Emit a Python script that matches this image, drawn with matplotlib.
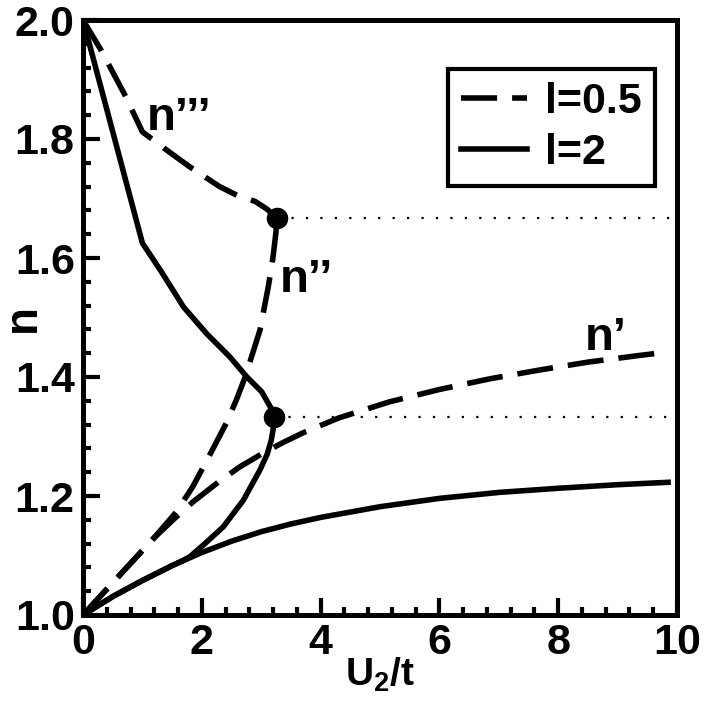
import matplotlib
matplotlib.use('Agg')
import matplotlib.pyplot as plt
from matplotlib.ticker import MultipleLocator
from matplotlib.lines import Line2D

plt.rcParams['font.family'] = ['Liberation Sans', 'DejaVu Sans']
plt.rcParams['font.weight'] = 'bold'
plt.rcParams['mathtext.fontset'] = 'custom'
plt.rcParams['mathtext.bf'] = 'Liberation Sans:bold'
plt.rcParams['mathtext.rm'] = 'Liberation Sans:bold'
plt.rcParams['mathtext.default'] = 'bf'

# l = 0.5 (dashed)
x_d1 = [0, 0.6, 1.2, 1.55, 1.85, 2.30, 2.64, 3.03, 3.37, 3.7, 4.3, 5.15, 6.0, 6.85, 7.7, 8.5, 9.35, 9.85]
n_d1 = [1, 1.065, 1.13, 1.163, 1.19, 1.225, 1.249, 1.272, 1.29, 1.306, 1.331, 1.358, 1.379, 1.397, 1.412, 1.425, 1.436, 1.442]
x_d2 = [0, 0.6, 1.2, 1.57, 1.85, 2.16, 2.41, 2.58, 2.73, 2.98, 3.12, 3.20, 3.25, 3.26]
n_d2 = [1, 1.065, 1.13, 1.173, 1.216, 1.274, 1.322, 1.361, 1.400, 1.479, 1.552, 1.602, 1.645, 1.667]
x_d3 = [0, 0.3, 0.7, 1.0, 1.4, 1.8, 2.3, 2.6, 2.9, 3.1, 3.26]
n_d3 = [2.0, 1.95, 1.875, 1.812, 1.782, 1.753, 1.720, 1.705, 1.695, 1.682, 1.667]

# l = 2 (solid)
x_s1 = [0, 0.5, 1.0, 1.5, 2.0, 2.5, 3.0, 3.5, 4.0, 5.0, 6.0, 7.0, 8.0, 9.0, 9.85]
n_s1 = [1, 1.031, 1.058, 1.083, 1.105, 1.124, 1.140, 1.153, 1.164, 1.182, 1.196, 1.206, 1.213, 1.219, 1.223]
x_s2 = [0, 0.5, 1.0, 1.5, 1.69, 1.80, 2.03, 2.36, 2.70, 2.98, 3.10, 3.17, 3.21, 3.22]
n_s2 = [1, 1.031, 1.058, 1.083, 1.092, 1.098, 1.118, 1.148, 1.193, 1.244, 1.270, 1.294, 1.318, 1.333]
x_s3 = [0, 1.0, 1.3, 1.69, 2.08, 2.47, 2.76, 3.01, 3.18, 3.22]
n_s3 = [2.0, 1.625, 1.580, 1.518, 1.473, 1.434, 1.400, 1.375, 1.345, 1.333]

# critical points
x_crit = [3.26, 3.22]
n_crit = [5/3, 4/3]

fig = plt.figure(figsize=(7.04, 7.09), dpi=100)
ax = fig.add_axes([83/704, 94/709, 594/704, 595/709])

lw = 4.0
dash = (0, (6.5, 2.7))
for xx, nn in [(x_d1, n_d1), (x_d2, n_d2), (x_d3, n_d3)]:
    ax.plot(xx, nn, color='black', lw=lw, linestyle=dash)
for xx, nn in [(x_s1, n_s1), (x_s2, n_s2), (x_s3, n_s3)]:
    ax.plot(xx, nn, color='black', lw=lw)

for xc, nc in zip(x_crit, n_crit):
    ax.plot([xc, 10], [nc, nc], color='black', lw=1.6, linestyle=(0, (1, 5.5)))
ax.plot(x_crit, n_crit, 'o', color='black', markersize=14.5, zorder=5)

ax.text(1.08, 1.815, 'n\u2019\u2019\u2019', fontsize=34, fontweight='bold')
ax.text(3.32, 1.543, 'n\u2019\u2019', fontsize=34, fontweight='bold')
ax.text(8.45, 1.445, 'n\u2019', fontsize=34, fontweight='bold')

ax.set_xlim(0, 10)
ax.set_ylim(1.0, 2.0)
ax.xaxis.set_minor_locator(MultipleLocator(0.4))
ax.yaxis.set_minor_locator(MultipleLocator(0.04))
ax.set_xticks([0, 2, 4, 6, 8, 10])
ax.set_xticklabels(['0', '2', '4', '6', '8', '10'])
ax.set_yticks([1.0, 1.2, 1.4, 1.6, 1.8, 2.0])
ax.set_yticklabels(['1.0', '1.2', '1.4', '1.6', '1.8', '2.0'])
ax.tick_params(which='both', direction='in', top=False, right=False, width=3, labelsize=31, pad=6)
ax.tick_params(which='major', length=12)
ax.tick_params(which='minor', length=6)
for s in ax.spines.values():
    s.set_linewidth(3.6)

ax.set_xlabel('U$_2$/t', fontsize=28, fontweight='bold')
ax.xaxis.set_label_coords(0.5, -0.068, transform=ax.transAxes)
ax.xaxis.label.set_va('top')
fig.text(23/704, 0.5 * (94 + 689) / 709, 'n', fontsize=33, fontweight='bold',
         rotation=90, ha='center', va='center')

handles = [Line2D([], [], color='black', lw=lw, linestyle=dash),
           Line2D([], [], color='black', lw=lw)]
leg = ax.legend(handles, ['l=0.5', 'l=2'], loc='upper right', bbox_to_anchor=(0.963, 0.917),
                borderaxespad=0, fancybox=False, edgecolor='black', framealpha=1,
                prop={'size': 31, 'weight': 'bold'}, handlelength=1.55, handletextpad=0.42,
                borderpad=0.3, labelspacing=0.24)
leg.get_frame().set_linewidth(3)

fig.savefig('out.png', dpi=100)
